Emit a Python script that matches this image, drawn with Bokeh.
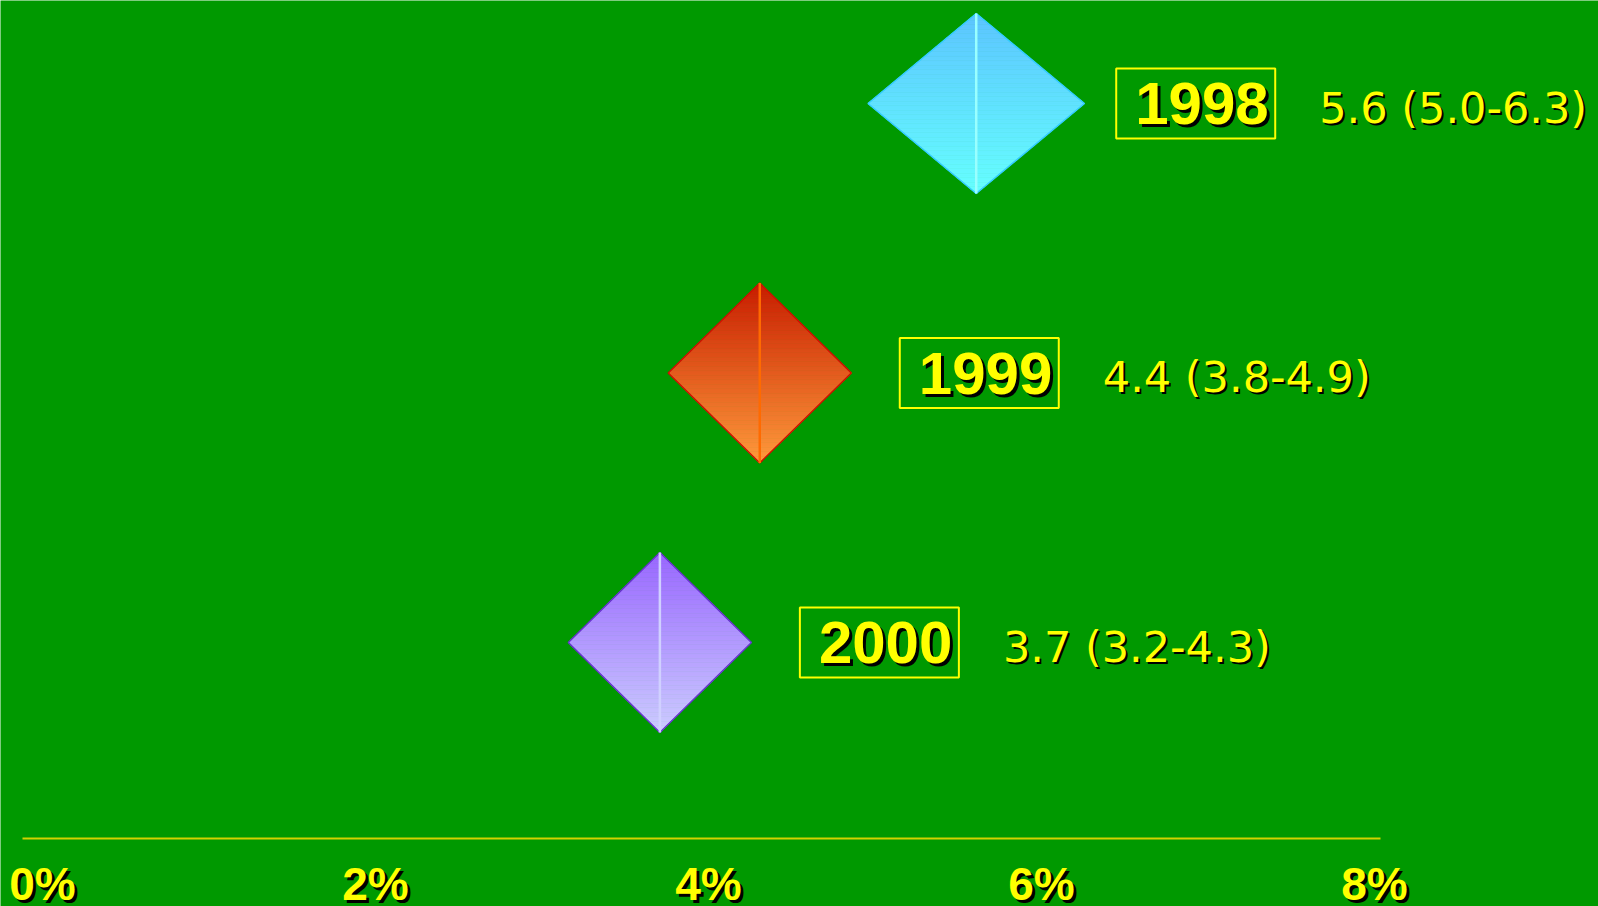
import numpy as np
from bokeh.plotting import figure
from bokeh.models import Range1d
from bokeh.core.properties import value
from bokeh.embed import file_html
from bokeh.resources import INLINE

# ---------------- data ----------------
years = ["1998", "1999", "2000"]
estimates = [5.6, 4.4, 3.7]
ci_low = [5.0, 3.8, 3.2]
ci_high = [6.3, 4.9, 4.3]
value_labels = ["5.6 (5.0-6.3)", "4.4 (3.8-4.9)", "3.7 (3.2-4.3)"]
tick_values = [0, 2, 4, 6, 8]
tick_labels = ["0%", "2%", "4%", "6%", "8%"]

# ---------------- styles ----------------
top_colors = ["#5CC4FF", "#C81C00", "#9966FF"]
bottom_colors = ["#66FFFF", "#FF9A3C", "#CCCCFF"]
outline_colors = ["#33CCFF", "#CC1100", "#6633CC"]
center_colors = ["#99FFFF", "#FF6A00", "#D0D0FF"]
BG = "#009900"
YELLOW = "#FFFF00"

W, H = 1598, 906
PX_PER_PCT = 166.5     # horizontal scale
X0_PX = 35             # pixel position of 0 %
ROW_PX = 269.5         # vertical spacing between rows
ROW0_PX = 103          # pixel position of first row centre
HALF_H = 90 / ROW_PX   # diamond half height (rows)

x_range = Range1d(-X0_PX / PX_PER_PCT, (W - X0_PX) / PX_PER_PCT)
y_range = Range1d((H - ROW0_PX) / ROW_PX, -ROW0_PX / ROW_PX)

p = figure(width=W, height=H, x_range=x_range, y_range=y_range,
           output_backend="svg", toolbar_location=None,
           x_axis_location=None, y_axis_location=None,
           min_border=0, background_fill_color=BG, border_fill_color=BG,
           outline_line_color=None)
p.grid.visible = False


def hex2rgb(h):
    h = h.lstrip("#")
    return np.array([int(h[i:i + 2], 16) for i in (0, 2, 4)], dtype=float)


def rgb2hex(c):
    return "#%02x%02x%02x" % tuple(int(round(v)) for v in c)


# diamond apex drawn at the middle of the confidence interval (as in the original)
centers = [(lo + hi) / 2 for lo, hi in zip(ci_low, ci_high)]

# ---------------- diamonds (vertical gradient via bands) ----------------
N = 80
for i, (mid, lo, hi) in enumerate(zip(centers, ci_low, ci_high)):
    r = i
    ys = np.linspace(r - HALF_H, r + HALF_H, N + 1)

    def left(y):
        t = abs(y - r) / HALF_H
        return lo + (mid - lo) * t

    def right(y):
        t = abs(y - r) / HALF_H
        return hi - (hi - mid) * t

    c0, c1 = hex2rgb(top_colors[i]), hex2rgb(bottom_colors[i])
    bx, by, bc = [], [], []
    for k in range(N):
        ya, yb = ys[k], ys[k + 1]
        bx.append([left(ya), right(ya), right(yb), left(yb)])
        by.append([ya, ya, yb, yb])
        f = (k + 0.5) / N
        bc.append(rgb2hex(c0 + (c1 - c0) * f))
    p.patches(bx, by, fill_color=bc, line_color=bc, line_width=0.8)

    p.patch([lo, mid, hi, mid], [r, r - HALF_H, r, r + HALF_H],
            fill_color=None, line_color=outline_colors[i], line_width=1.5)
    p.segment(mid, r - HALF_H, mid, r + HALF_H,
              line_color=center_colors[i], line_width=2.5)

# ---------------- labels ----------------
rows = list(range(len(years)))
BOX_OFF = 140      # px from diamond centre to box left edge
BOX_W, BOX_H = 159, 70
box_x = [c + (BOX_OFF + BOX_W / 2) / PX_PER_PCT for c in centers]
year_x = [c + (BOX_OFF + 19) / PX_PER_PCT for c in centers]
val_x = [c + (BOX_OFF + 203) / PX_PER_PCT for c in centers]

p.rect(box_x, rows, width=BOX_W, height=BOX_H, width_units="screen",
       height_units="screen", fill_color=None, line_color=YELLOW, line_width=2)

year_font = value("Liberation Sans")
p.text(year_x, rows, text=years, text_font=year_font, text_font_style="bold",
       text_font_size="60px", text_color="#000000", text_baseline="alphabetic",
       x_offset=3, y_offset=3)
p.text(year_x, rows, text=years, text_font=year_font, text_font_style="bold",
       text_font_size="60px", text_color=YELLOW, text_baseline="alphabetic",
       x_offset=0, y_offset=0)

val_font = value("DejaVu Sans")
p.text(val_x, rows, text=value_labels, text_font=val_font,
       text_font_size="43px", text_color="#000000", text_baseline="alphabetic",
       x_offset=2, y_offset=6)
p.text(val_x, rows, text=value_labels, text_font=val_font,
       text_font_size="43px", text_color=YELLOW, text_baseline="alphabetic",
       x_offset=0, y_offset=4)

# ---------------- axis ----------------
AXIS_Y = (838 - ROW0_PX) / ROW_PX
LABEL_Y = (898 - ROW0_PX) / ROW_PX
ext = 13 / PX_PER_PCT
p.segment(tick_values[0] - ext, AXIS_Y, tick_values[-1] + ext, AXIS_Y,
          line_color="#D2D200", line_width=2)

tick_font = value("Liberation Sans")
p.text(tick_values, [LABEL_Y] * len(tick_values), text=tick_labels,
       text_font=tick_font, text_font_style="bold", text_font_size="46px",
       text_color="#000000", text_align="center", text_baseline="alphabetic",
       x_offset=10, y_offset=-12)
p.text(tick_values, [LABEL_Y] * len(tick_values), text=tick_labels,
       text_font=tick_font, text_font_style="bold", text_font_size="46px",
       text_color=YELLOW, text_align="center", text_baseline="alphabetic",
       x_offset=7, y_offset=-15)

html = file_html(p, INLINE)
html = html.replace("<body>", '<body style="margin:0;background-color:#009900;overflow:hidden">', 1)
open("out.html", "w").write(html)
